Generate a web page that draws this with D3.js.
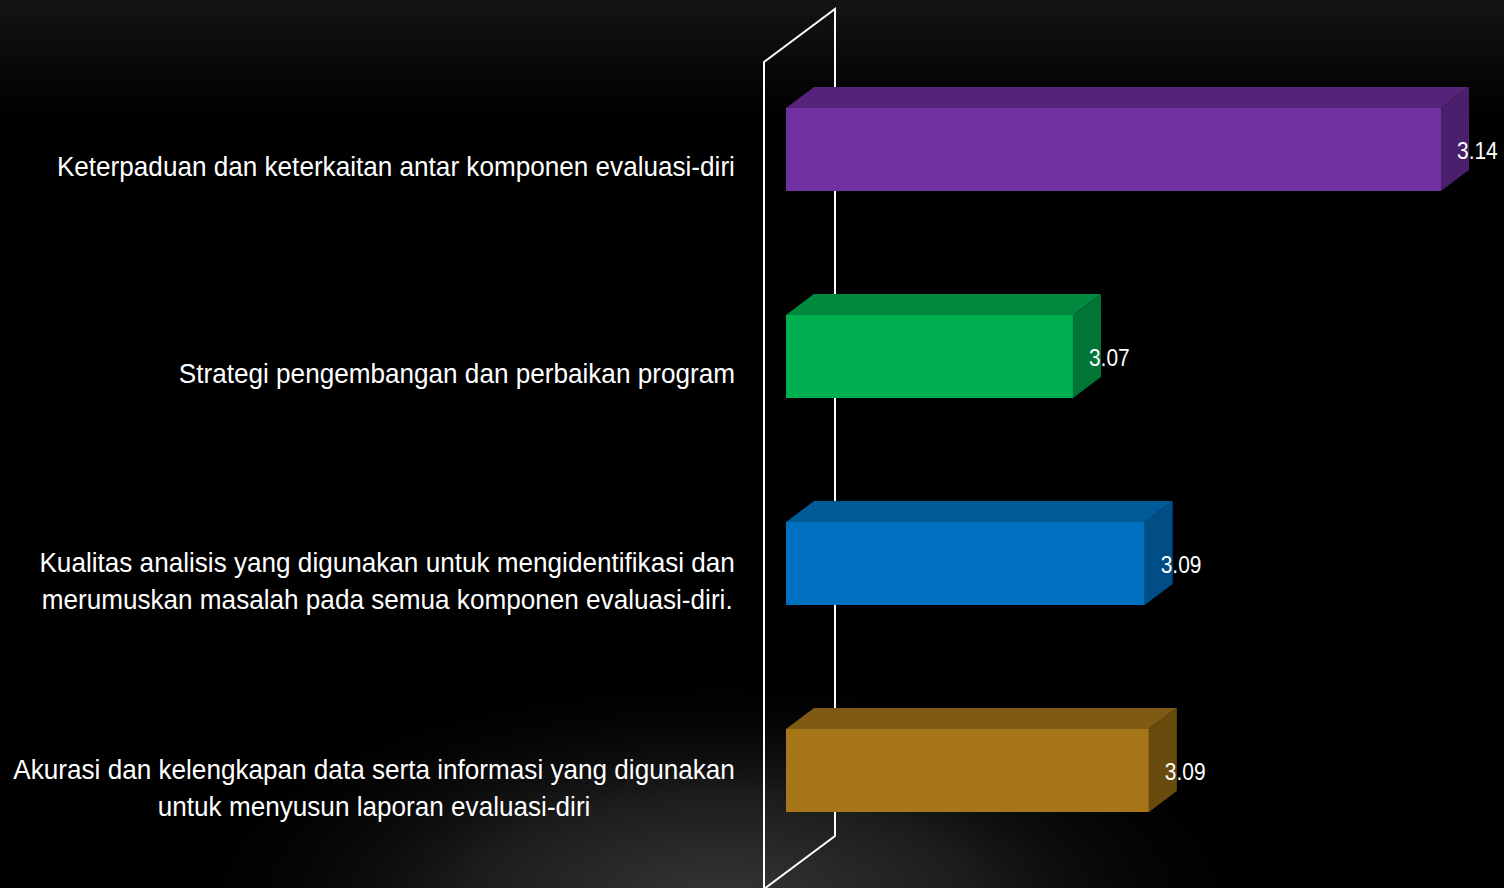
<!DOCTYPE html>
<html>
<head>
<meta charset="utf-8">
<script src="https://cdn.jsdelivr.net/npm/d3@7/dist/d3.min.js"></script>
<style>
  html, body { margin: 0; padding: 0; background: #000; }
  svg { display: block; }
  text { font-family: "Liberation Sans", Arial, sans-serif; }
</style>
</head>
<body>
<svg id="chart" width="1504" height="888"></svg>
<script>
const categories = [
  ["Keterpaduan dan keterkaitan antar komponen evaluasi-diri"],
  ["Strategi pengembangan dan perbaikan program"],
  ["Kualitas analisis yang digunakan untuk mengidentifikasi dan", "merumuskan masalah pada semua komponen evaluasi-diri."],
  ["Akurasi dan kelengkapan data serta informasi yang digunakan", "untuk menyusun laporan evaluasi-diri"]
];
const values = [3.1428, 3.072, 3.0858, 3.0866];
const frontColors = ["#7030A0", "#00B050", "#0070C0", "#A67618"];
const topColors   = ["#55247A", "#008A3F", "#005A98", "#7F5A12"];
const sideColors  = ["#4A1F6B", "#007535", "#004E85", "#6A4B0E"];
const axisDomain = [3.0168, 3.1428];

const svg = d3.select("#chart");
const W = 1504, H = 888;
const narrowCat = 0.95, narrowVal = 0.91;
const defs = svg.append("defs");
const lg = defs.append("linearGradient").attr("id", "topg").attr("x1", 0).attr("y1", 0).attr("x2", 0).attr("y2", 1);
lg.append("stop").attr("offset", "0").attr("stop-color", "#141414");
lg.append("stop").attr("offset", "0.13").attr("stop-color", "#000");
lg.append("stop").attr("offset", "1").attr("stop-color", "#000");
const rg = defs.append("radialGradient").attr("id", "botg")
  .attr("gradientUnits", "userSpaceOnUse").attr("cx", 720).attr("cy", 900).attr("r", 560)
  .attr("gradientTransform", "translate(720,900) scale(1,0.42) translate(-720,-900)");
rg.append("stop").attr("offset", "0").attr("stop-color", "#363636");
rg.append("stop").attr("offset", "0.45").attr("stop-color", "#1c1c1c");
rg.append("stop").attr("offset", "1").attr("stop-color", "#000").attr("stop-opacity", 0);
svg.append("rect").attr("width", W).attr("height", H).attr("fill", "url(#topg)");
svg.append("rect").attr("width", W).attr("height", H).attr("fill", "url(#botg)");

const x = d3.scaleLinear().domain(axisDomain).range([786, 1441]);
const y = d3.scaleBand().domain(d3.range(categories.length)).range([108, 812]).paddingInner(124 / 207).paddingOuter(0);
const dx = 28, dy = 21;

// wall (back plane)
const x0 = x(axisDomain[0]);
const wf = x0 - 22, wb = x0 + 49;
const wallPts = [[wf, 62], [wb, 9], [wb, 836], [wf, 889]];
svg.append("path")
  .attr("d", d3.line()(wallPts) + "Z")
  .attr("fill", "none").attr("stroke", "#fff").attr("stroke-width", 2);

const g = svg.append("g");
values.forEach((v, i) => {
  const xl = x0, xr = x(v), yt = y(i), yb = y(i) + y.bandwidth();
  const bar = g.append("g");
  bar.append("path").attr("d", d3.line()([[xl, yt], [xl + dx, yt - dy], [xr + dx, yt - dy], [xr, yt]]) + "Z")
    .attr("fill", topColors[i]);
  bar.append("path").attr("d", d3.line()([[xr, yt], [xr + dx, yt - dy], [xr + dx, yb - dy], [xr, yb]]) + "Z")
    .attr("fill", sideColors[i]);
  bar.append("rect").attr("x", xl).attr("y", yt).attr("width", xr - xl).attr("height", yb - yt)
    .attr("fill", frontColors[i]);
  bar.append("g").attr("transform", `translate(${xr + 16},${(yt + yb) / 2 + 1}) scale(${narrowVal},1)`)
    .append("text")
    .attr("dy", "0.36em")
    .attr("fill", "#fff").attr("font-size", 23)
    .text(v.toFixed(2));
});

// category labels
const labelRight = 735, fs = 27.5, lh = 37;
categories.forEach((lines, i) => {
  const cy = y(i) + y.bandwidth() / 2 + 17;
  const lgp = svg.append("g");
  const t = lgp.append("text").attr("fill", "#fff").attr("font-size", fs).attr("text-anchor", "middle");
  const spans = lines.map((s, k) => t.append("tspan").attr("x", 0).attr("y", cy + (k - (lines.length - 1) / 2) * lh).attr("dy", "0.35em").text(s));
  const widths = spans.map(s => s.node().getComputedTextLength() * narrowCat);
  const bw = d3.max(widths);
  lgp.attr("transform", `translate(${labelRight - bw / 2},0) scale(${narrowCat},1)`);
});
</script>
</body>
</html>
